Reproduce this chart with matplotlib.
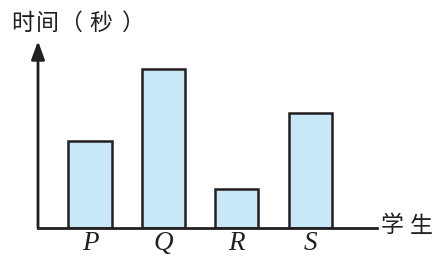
import matplotlib
matplotlib.use('Agg')
import matplotlib.pyplot as plt

# 学生与时间（无刻度，按相对高度读取）
students = ['P', 'Q', 'R', 'S']
times = [87, 159, 39, 115]
title_chars = ['时', '间', '（', '秒', '）']
xlabel_chars = ['学', '生']

W, H = 437, 259
fig = plt.figure(figsize=(W / 100, H / 100), dpi=100)

# axes: y-axis at x=38px, x-axis at y=228px, top at arrow tip y=41px
left, right, base, top = 38, 377, 228, 41
ax = fig.add_axes([left / W, (H - base) / H, (right - left) / W, (base - top) / H])

xpos = list(range(len(students)))
ax.bar(xpos, times, width=0.59, color='#C8E8F8', edgecolor='#231F20', linewidth=1.8, zorder=2)

ax.set_xlim(-0.71, 3.91)
ax.set_ylim(0, base - top)
for s in ax.spines.values():
    s.set_visible(False)
ax.set_xticks([])
ax.set_yticks([])

# x axis line (no arrow)
ax.plot([0, 1], [0, 0], transform=ax.transAxes, color='#231F20', lw=2, clip_on=False, zorder=3)
# y axis with arrow
ax.annotate('', xy=(0, 1), xytext=(0, 0), xycoords='axes fraction',
            arrowprops=dict(arrowstyle='-|>,head_length=1.1,head_width=0.4',
                            color='#231F20', lw=2, shrinkA=0, shrinkB=0))

for x, name in zip(xpos, students):
    ax.text(x, -3, name, ha='center', va='top', fontsize=19.5, style='italic',
            family='Liberation Serif', color='#231F20')

cjk = ['Noto Sans CJK SC', 'DejaVu Sans']
# character centres in pixels (text is spaced out in the original)
title_x = [23, 47.5, 70, 101, 133]
for cx, ch in zip(title_x, title_chars):
    fig.text(cx / W, 1 - 23.5 / H, ch, ha='center', va='center', fontsize=16.5,
             family=cjk, color='#231F20')
xlabel_x = [392.5, 421.5]
for cx, ch in zip(xlabel_x, xlabel_chars):
    fig.text(cx / W, 1 - 226 / H, ch, ha='center', va='center', fontsize=16.5,
             family=cjk, color='#231F20')

fig.savefig('out.png', dpi=100)
